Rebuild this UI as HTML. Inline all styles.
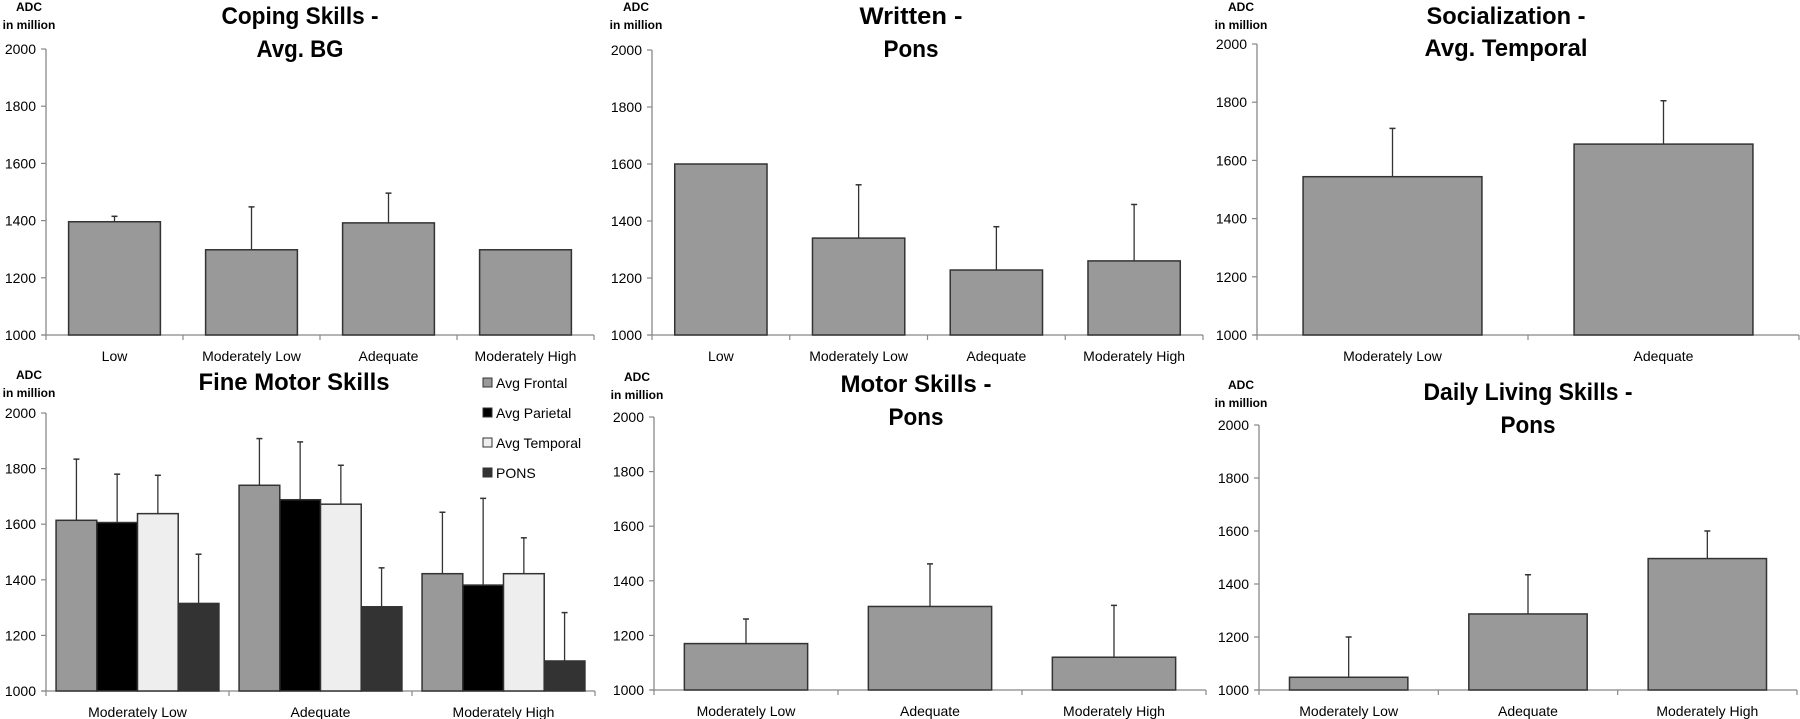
<!DOCTYPE html>
<html><head><meta charset="utf-8"><style>
html,body{margin:0;padding:0;background:#fff;}
svg{display:block;font-family:"Liberation Sans",Arial,sans-serif;}
</style></head><body>
<svg id="c" width="1800" height="719" viewBox="0 0 1800 719"></svg>
<script>
const copingCats = ["Low","Moderately Low","Adequate","Moderately High"];
const copingVals = [1396,1298,1392,1298];
const copingErr = [1415,1448,1496,null];
const writtenCats = ["Low","Moderately Low","Adequate","Moderately High"];
const writtenVals = [1600,1340,1228,1260];
const writtenErr = [null,1527,1380,1458];
const socialCats = ["Moderately Low","Adequate"];
const socialVals = [1544,1656];
const socialErr = [1710,1805];
const fineCats = ["Moderately Low","Adequate","Moderately High"];
const fineSeries = ["Avg Frontal","Avg Parietal","Avg Temporal","PONS"];
const fineFrontal = [1614,1740,1422];
const fineFrontalErr = [1834,1908,1643];
const fineParietal = [1606,1688,1381];
const fineParietalErr = [1780,1896,1693];
const fineTemporal = [1638,1672,1422];
const fineTemporalErr = [1776,1812,1551];
const finePons = [1315,1303,1108];
const finePonsErr = [1492,1443,1282];
const motorCats = ["Moderately Low","Adequate","Moderately High"];
const motorVals = [1170,1306,1120];
const motorErr = [1260,1462,1310];
const dailyCats = ["Moderately Low","Adequate","Moderately High"];
const dailyVals = [1048,1287,1496];
const dailyErr = [1200,1435,1600];
const yTicks = [1000,1200,1400,1600,1800,2000];

const svg = document.getElementById('c');
const NS = 'http://www.w3.org/2000/svg';
function mk(tag, attrs, parent){
  const e = document.createElementNS(NS, tag);
  for (const k in attrs) e.setAttribute(k, attrs[k]);
  (parent||svg).appendChild(e);
  return e;
}
function txt(s, attrs, parent){ const e = mk('text', attrs, parent); e.textContent = s; return e; }

function panel(p){
  const g = mk('g', {});
  
  
  const y = v => p.y0 + (v-1000)/1000*(p.y2000 - p.y0);
  const x0 = p.ax, x1 = p.xend;
  const n = p.cats.length, cw = (x1-x0)/n;
  const ya = mk('line',{x1:x0,y1:y(2000),x2:x0,y2:p.y0,stroke:'#888','stroke-width':1.3},g);
  
  
  const xa = mk('line',{x1:x0-4,y1:p.y0,x2:x1,y2:p.y0,stroke:'#888','stroke-width':1.3},g);
  
  
  yTicks.forEach(t=>{
    mk('line',{x1:x0-5,y1:y(t),x2:x0,y2:y(t),stroke:'#888','stroke-width':1.2},g);
    const l = txt(String(t),{x:x0-10,y:y(t)+5,'text-anchor':'end','font-size':14,fill:'#000'},g);
    
    
  });
  for(let i=0;i<=n;i++) mk('line',{x1:x0+i*cw,y1:p.y0,x2:x0+i*cw,y2:p.y0+5,stroke:'#888','stroke-width':1.2},g);
  p.cats.forEach((c,i)=>{
    const l = txt(c,{x:x0+(i+0.5)*cw,y:p.y0+26,'text-anchor':'middle','font-size':14,fill:'#000'},g);
    
    
  });
  const ns = p.series.length;
  const gw = cw*p.groupFrac, bw = gw/ns;
  p.series.forEach((s,si)=>{
    s.vals.forEach((v,i)=>{
      const bx = x0 + i*cw + (cw-gw)/2 + si*bw;
      const r = mk('rect',{x:bx,y:y(v),width:bw,height:p.y0-y(v),fill:s.color,stroke:'#333','stroke-width':1.5},g);
      
      
      const e = s.err[i];
      if(e!=null){
        const cx = bx+bw/2;
        const el = mk('line',{x1:cx,y1:y(v),x2:cx,y2:y(e),stroke:'#333','stroke-width':1.3},g);
        
        
        mk('line',{x1:cx-3,y1:y(e),x2:cx+3,y2:y(e),stroke:'#333','stroke-width':1.5},g);
      }
    });
  });
  p.title.forEach((t,i)=>{
    const l = txt(t[0],{x:p.tx,y:p.ty[i],'text-anchor':'middle','font-size':24,'font-weight':'bold',fill:'#000',textLength:t[1],lengthAdjust:'spacingAndGlyphs'},g);
    
    
  });
  const a1 = txt('ADC',{x:p.adcx,y:p.adcy,'text-anchor':'middle','font-size':12,'font-weight':'bold'},g);
  
  
  const a2 = txt('in million',{x:p.adcx,y:p.adcy+18,'text-anchor':'middle','font-size':12,'font-weight':'bold'},g);
  
  
  return g;
}

panel({name:'coping-skills-chart',ax:46,xend:594,y0:335,y2000:49,cats:copingCats,groupFrac:0.67,
  series:[{vals:copingVals,err:copingErr,color:'#999'}],
  title:[['Coping Skills -',157],['Avg. BG',87]],tx:300,ty:[24,57],adcx:29,adcy:11});
panel({name:'written-chart',ax:652,xend:1203,y0:335,y2000:50,cats:writtenCats,groupFrac:0.67,
  series:[{vals:writtenVals,err:writtenErr,color:'#999'}],
  title:[['Written -',103],['Pons',55]],tx:911,ty:[24,57],adcx:636,adcy:11});
panel({name:'socialization-chart',ax:1257,xend:1799,y0:335,y2000:44,cats:socialCats,groupFrac:0.66,
  series:[{vals:socialVals,err:socialErr,color:'#999'}],
  title:[['Socialization -',159],['Avg. Temporal',163]],tx:1506,ty:[24,56],adcx:1241,adcy:11});
panel({name:'fine-motor-chart',ax:46,xend:595,y0:691,y2000:413,cats:fineCats,groupFrac:0.89,
  series:[{vals:fineFrontal,err:fineFrontalErr,color:'#999'},{vals:fineParietal,err:fineParietalErr,color:'#000'},
          {vals:fineTemporal,err:fineTemporalErr,color:'#eee'},{vals:finePons,err:finePonsErr,color:'#333'}],
  title:[['Fine Motor Skills',191]],tx:294,ty:[390],adcx:29,adcy:379});
panel({name:'motor-skills-chart',ax:654,xend:1206,y0:690,y2000:417,cats:motorCats,groupFrac:0.67,
  series:[{vals:motorVals,err:motorErr,color:'#999'}],
  title:[['Motor Skills -',151],['Pons',55]],tx:916,ty:[392,425],adcx:637,adcy:381});
panel({name:'daily-living-chart',ax:1259,xend:1797,y0:690,y2000:425,cats:dailyCats,groupFrac:0.66,
  series:[{vals:dailyVals,err:dailyErr,color:'#999'}],
  title:[['Daily Living Skills -',209],['Pons',55]],tx:1528,ty:[400,433],adcx:1241,adcy:389});

const legendColors = ['#999','#000','#eee','#333'];
const lg = mk('g',{});


fineSeries.forEach((s,i)=>{
  const ly = 383 + i*30;
  const sq = mk('rect',{x:483,y:ly-5,width:9,height:9,fill:legendColors[i],stroke:'#333','stroke-width':1},lg);
  
  
  const t = txt(s,{x:496,y:ly+5,'font-size':14,fill:'#000'},lg);
  
  
});
</script>
</body></html>
